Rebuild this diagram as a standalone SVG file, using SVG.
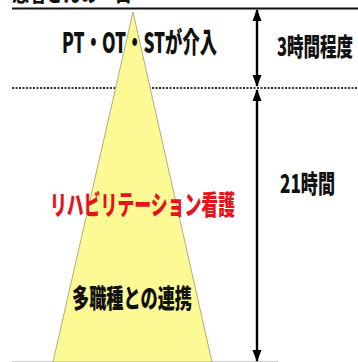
<svg xmlns="http://www.w3.org/2000/svg" width="358" height="362" viewBox="0 0 358 362">
<defs>
<marker id="ah" viewBox="0 0 12 10" refX="11" refY="5" markerWidth="13" markerHeight="10" markerUnits="userSpaceOnUse" orient="auto-start-reverse">
<path d="M0,0.5 L12,5 L0,9.5 Z" fill="#000"/>
</marker>
<style>
text{font-family:"Noto Sans CJK JP","Liberation Sans",sans-serif;font-weight:900;}
.blk{fill:#111;}
.red{fill:#E3141B;}
</style>
</defs>
<rect width="358" height="362" fill="#fff"/>
<g id="title">
<text class="blk" x="12" y="2" font-size="20" textLength="120" lengthAdjust="spacingAndGlyphs">患者さんの一日</text>
</g>
<g id="lines">
<line x1="12" y1="8.5" x2="358" y2="8.5" stroke="#111" stroke-width="2.2"/>
<line x1="12" y1="88" x2="358" y2="88" stroke="#333" stroke-width="2" stroke-dasharray="2,1.5"/>
<line x1="12" y1="361.5" x2="278" y2="361.5" stroke="#ccc" stroke-width="1"/>
</g>
<g id="triangle">
<polygon points="133,12 53,362 212,362" fill="#FDFA96" stroke="#9a9a6a" stroke-width="0.8"/>
</g>
<g id="connectors">
<line x1="257" y1="10" x2="257" y2="86" stroke="#000" stroke-width="2.4" marker-start="url(#ah)" marker-end="url(#ah)"/>
<line x1="257" y1="90" x2="257" y2="361" stroke="#000" stroke-width="2.4" marker-start="url(#ah)" marker-end="url(#ah)"/>
</g>
<g id="labels">
<text class="blk" transform="translate(62,53) scale(0.75,1)" font-size="28" textLength="206.7" lengthAdjust="spacingAndGlyphs">PT・OT・STが介入</text>
<text class="blk" transform="translate(277,56) scale(0.65,1)" font-size="25" textLength="117" lengthAdjust="spacingAndGlyphs">3時間程度</text>
<text class="blk" transform="translate(280,193) scale(0.65,1)" font-size="25" textLength="84.6" lengthAdjust="spacingAndGlyphs">21時間</text>
<text class="red" transform="translate(50,215) scale(0.7,1)" font-size="27" textLength="264.3" lengthAdjust="spacingAndGlyphs">リハビリテーション看護</text>
<text class="blk" transform="translate(72,308) scale(0.7,1)" font-size="26" textLength="171.4" lengthAdjust="spacingAndGlyphs">多職種との連携</text>
</g>
</svg>
